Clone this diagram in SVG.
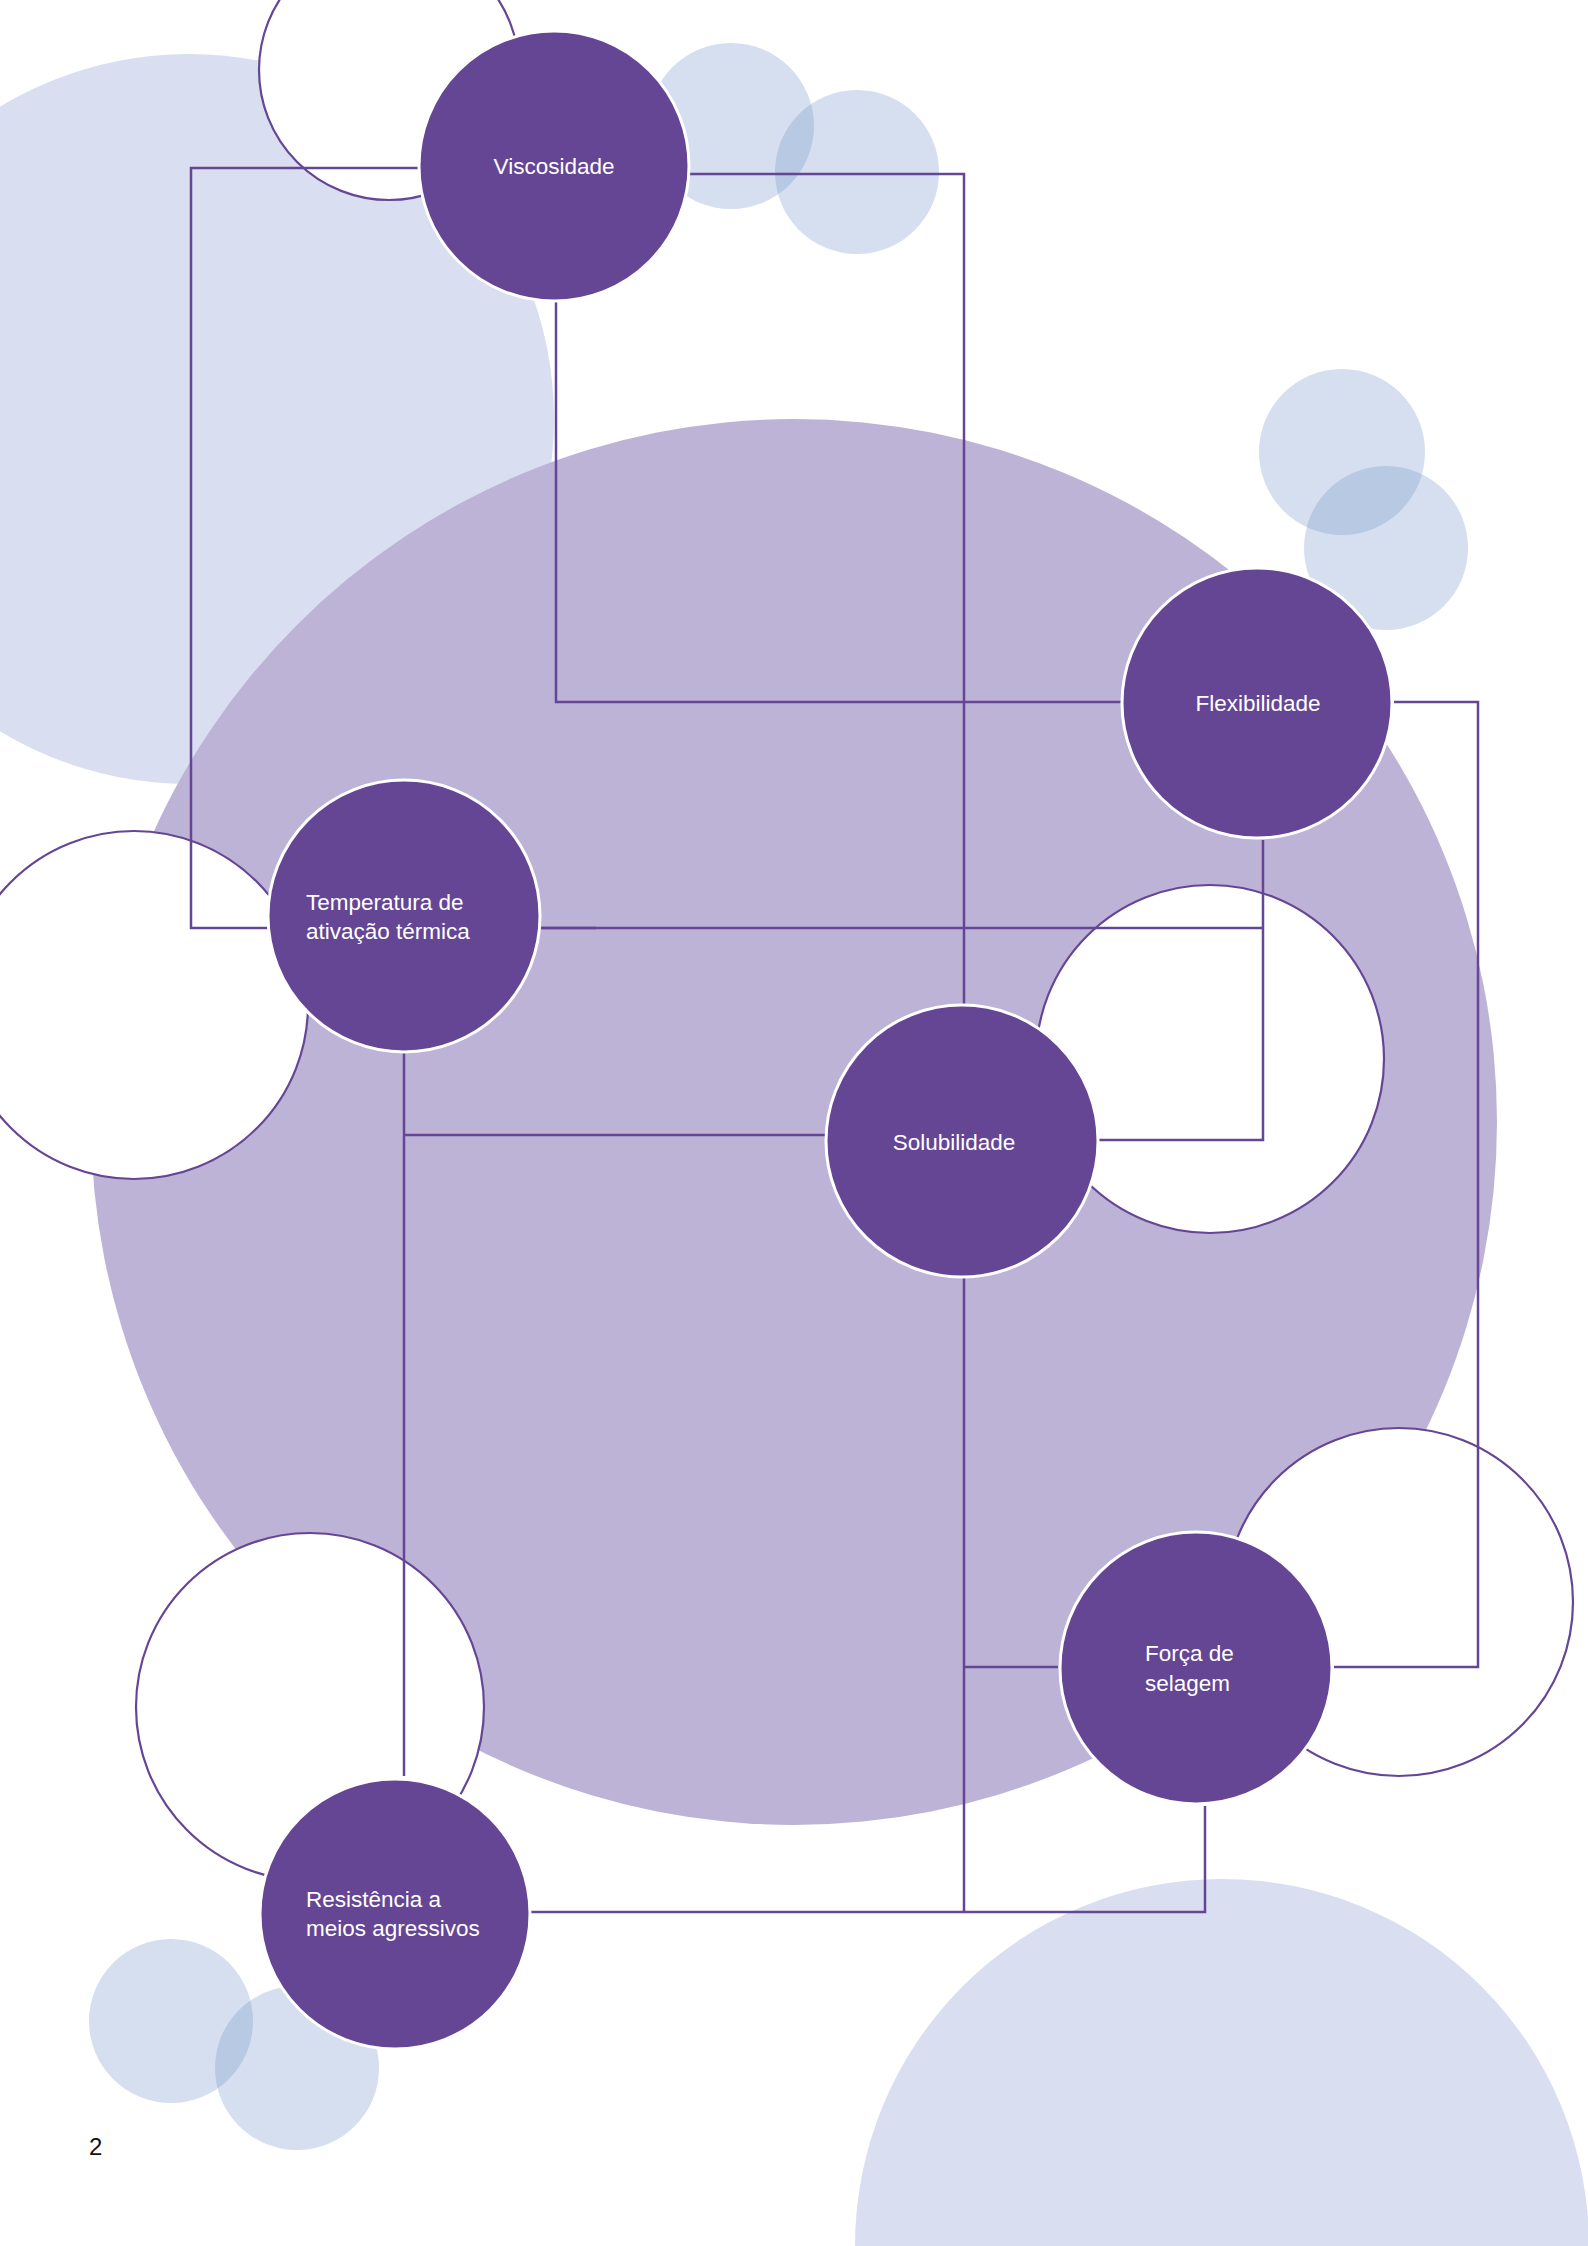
<svg xmlns="http://www.w3.org/2000/svg" width="1588" height="2246" viewBox="0 0 1588 2246">
<style>
.bgblue{fill:#D9DEF1}
.lav{fill:#BDB3D7}
.dot{fill:rgb(120,152,203);fill-opacity:0.31}
.ring{fill:#FFFFFF;stroke:#654694;stroke-width:2.2}
.conn{fill:none;stroke:#654694;stroke-width:2.5}
.node{fill:#654694;stroke:#FFFFFF;stroke-width:3}
.lbl{fill:#FFFFFF;font-family:"Liberation Sans",Arial,Helvetica,sans-serif;font-size:22.5px}
.pg{fill:#111111;font-family:"Liberation Sans",Arial,Helvetica,sans-serif;font-size:24px}
</style>
<rect width="1588" height="2246" fill="#FFFFFF"/>
<g id="background">
<circle class="bgblue" cx="189" cy="419" r="365"/>
<circle class="lav" cx="794" cy="1122" r="703"/>
<circle class="bgblue" cx="1222" cy="2246" r="367"/>
<circle class="dot" cx="731" cy="126" r="83"/>
<circle class="dot" cx="857" cy="172" r="82"/>
<circle class="dot" cx="1342" cy="452" r="83"/>
<circle class="dot" cx="1386" cy="548" r="82"/>
<circle class="dot" cx="171" cy="2021" r="82"/>
<circle class="dot" cx="297" cy="2068" r="82"/>
</g>
<g id="rings">
<circle class="ring" cx="389" cy="70" r="130"/>
<circle class="ring" cx="134" cy="1005" r="174"/>
<circle class="ring" cx="1210" cy="1059" r="174"/>
<circle class="ring" cx="1399" cy="1602" r="174"/>
<circle class="ring" cx="310" cy="1707" r="174"/>
</g>
<g id="connectors">
<path class="conn" d="M420 168 H191 V928 H268"/>
<path class="conn" d="M690 174 H964 V1006"/>
<path class="conn" d="M556 300 V702 H1122"/>
<path class="conn" d="M1394 702 H1478 V1667 H1334"/>
<path class="conn" d="M540 928 H1262"/>
<path class="conn" d="M540 928 H596" stroke-width="3.5"/>
<path class="conn" d="M1263 840 V1140 H1099"/>
<path class="conn" d="M404 1052 V1776"/>
<path class="conn" d="M404 1135 H826"/>
<path class="conn" d="M964 1278 V1912"/>
<path class="conn" d="M1058 1667 H964"/>
<path class="conn" d="M531 1912 H1205 V1806"/>
</g>
<g id="node-viscosidade">
<circle class="node" cx="554" cy="166" r="135"/>
<text class="lbl" x="554" y="174" text-anchor="middle">Viscosidade</text>
</g>
<g id="node-flexibilidade">
<circle class="node" cx="1257" cy="703" r="135"/>
<text class="lbl" x="1258" y="711" text-anchor="middle">Flexibilidade</text>
</g>
<g id="node-temperatura">
<circle class="node" cx="404" cy="916" r="136"/>
<text class="lbl" x="306" y="910">Temperatura de</text>
<text class="lbl" x="306" y="939">ativação térmica</text>
</g>
<g id="node-solubilidade">
<circle class="node" cx="962" cy="1141" r="136"/>
<text class="lbl" x="954" y="1150" text-anchor="middle">Solubilidade</text>
</g>
<g id="node-forca">
<circle class="node" cx="1196" cy="1668" r="136"/>
<text class="lbl" x="1145" y="1661">Força de</text>
<text class="lbl" x="1145" y="1691">selagem</text>
</g>
<g id="node-resistencia">
<circle class="node" cx="395" cy="1914" r="135"/>
<text class="lbl" x="306" y="1907">Resistência a</text>
<text class="lbl" x="306" y="1936">meios agressivos</text>
</g>
<text class="pg" x="89" y="2155">2</text>
</svg>
